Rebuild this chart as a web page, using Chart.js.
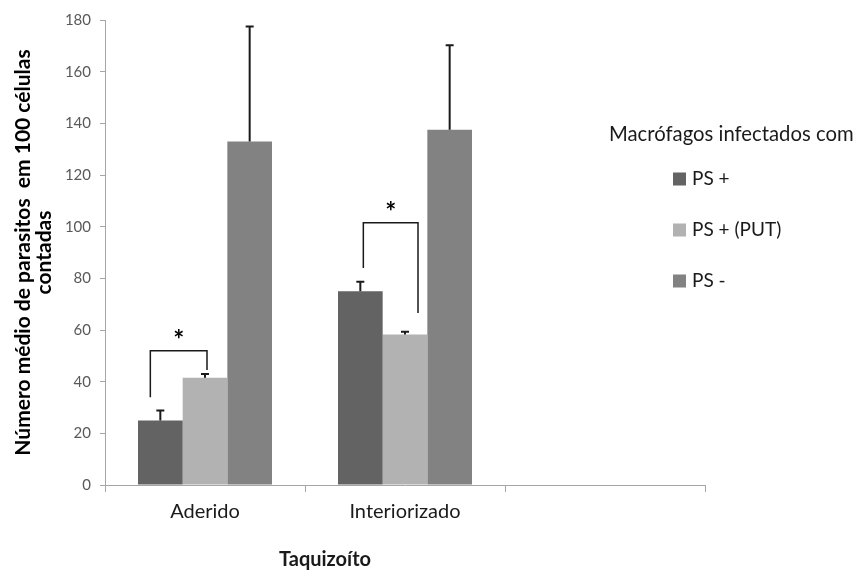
<!DOCTYPE html>
<html>
<head>
<meta charset="utf-8">
<script src="https://cdn.jsdelivr.net/npm/chart.js@4"></script>
<style>
  html, body { margin: 0; padding: 0; background: #fff; }
  canvas { display: block; }
</style>
</head>
<body>
<canvas id="grafico" width="855" height="572"></canvas>
<script>
// categorias e séries
const categorias = ['Aderido', 'Interiorizado', ''];
const seriesNomes = ['PS +', 'PS + (PUT)', 'PS -'];
const psPositivo = [25, 75, null];
const psPositivoPut = [41.5, 58.3, null];
const psNegativo = [133, 137.5, null];

// desvios (só para cima)
const errPsPositivo = [3.8, 3.7, null];
const errPsPositivoPut = [1.5, 1.0, null];
const errPsNegativo = [44.5, 32.7, null];

const yTicks = [0, 20, 40, 60, 80, 100, 120, 140, 160, 180];

// colchetes de significância: grupo, barras, alturas em unidades do eixo
const colchetes = [
    { grupo: 0, de: 0, ate: 1, esq: 34, topo: 52, dir: 44.5 },
    { grupo: 1, de: 0, ate: 1, esq: 84, topo: 101.5, dir: 66.6 }
];

const cores = ['#636363', '#b2b2b2', '#828282'];
const fonte = 'Lato, "Open Sans", sans-serif';

// ajuste fino horizontal das pontas dos colchetes (px)
const ajusteColchete = [[-10, 2], [3, 13]];

const pluginExtras = {
    id: 'extras',
    afterDatasetsDraw(chart) {
        const ctx = chart.ctx;
        const y = chart.scales.y;
        const erros = [errPsPositivo, errPsPositivoPut, errPsNegativo];

        // barras de erro
        ctx.save();
        ctx.strokeStyle = '#1a1a1a';
        ctx.lineWidth = 2;
        chart.data.datasets.forEach((ds, i) => {
            const meta = chart.getDatasetMeta(i);
            meta.data.forEach((bar, j) => {
                const v = ds.data[j];
                const e = erros[i][j];
                if (v == null || e == null) return;
                const yTop = y.getPixelForValue(v + e);
                ctx.beginPath();
                ctx.moveTo(bar.x, bar.y);
                ctx.lineTo(bar.x, yTop);
                ctx.moveTo(bar.x - 4, yTop);
                ctx.lineTo(bar.x + 4, yTop);
                ctx.stroke();
            });
        });

        // colchetes com asterisco
        ctx.lineWidth = 1.5;
        ctx.fillStyle = '#000';
        ctx.font = 'bold 26px ' + fonte;
        ctx.textAlign = 'center';
        ctx.textBaseline = 'middle';
        colchetes.forEach((c, k) => {
            const x1 = chart.getDatasetMeta(c.de).data[c.grupo].x + ajusteColchete[k][0];
            const x2 = chart.getDatasetMeta(c.ate).data[c.grupo].x + ajusteColchete[k][1];
            const yT = y.getPixelForValue(c.topo);
            ctx.beginPath();
            ctx.moveTo(x1, y.getPixelForValue(c.esq));
            ctx.lineTo(x1, yT);
            ctx.lineTo(x2, yT);
            ctx.lineTo(x2, y.getPixelForValue(c.dir));
            ctx.stroke();
            ctx.fillText('*', (x1 + x2) / 2, yT - 10);
        });
        ctx.restore();
    },
    afterDraw(chart) {
        const ctx = chart.ctx;
        ctx.save();

        // legenda
        ctx.fillStyle = '#1a1a1a';
        ctx.textBaseline = 'middle';
        ctx.textAlign = 'left';
        ctx.font = '20.3px ' + fonte;
        ctx.fillText('Macrófagos infectados com', 609, 134);
        ctx.font = '19px ' + fonte;
        seriesNomes.forEach((nome, i) => {
            const cy = 179 + i * 51;
            ctx.fillStyle = cores[i];
            ctx.fillRect(673, cy - 6.5, 13, 13);
            ctx.fillStyle = '#1a1a1a';
            ctx.fillText(nome, 692, cy);
        });

        // título do eixo x
        const x = chart.scales.x;
        ctx.font = 'bold 20px ' + fonte;
        ctx.textAlign = 'center';
        ctx.fillText('Taquizoíto', x.getPixelForValue(0.5) + 20, 560);
        ctx.restore();
    }
};

new Chart(document.getElementById('grafico'), {
    type: 'bar',
    data: {
        labels: categorias,
        datasets: [
            { label: seriesNomes[0], data: psPositivo, backgroundColor: cores[0] },
            { label: seriesNomes[1], data: psPositivoPut, backgroundColor: cores[1] },
            { label: seriesNomes[2], data: psNegativo, backgroundColor: cores[2] }
        ]
    },
    options: {
        responsive: false,
        animation: false,
        layout: { padding: { top: 20, right: 150, left: 0, bottom: 0 } },
        datasets: { bar: { barPercentage: 1, categoryPercentage: 0.67 } },
        plugins: {
            legend: { display: false },
            tooltip: { enabled: false }
        },
        scales: {
            x: {
                afterFit: (s) => { s.height = 87; },
                grid: {
                    offset: true,
                    drawOnChartArea: false,
                    color: '#a6a6a6',
                    tickLength: 7
                },
                border: { color: '#a6a6a6' },
                ticks: {
                    color: '#1a1a1a',
                    font: { family: fonte, size: 20 },
                    padding: 8
                }
            },
            y: {
                min: 0,
                max: 180,
                afterFit: (s) => { s.width = 105; },
                afterBuildTicks: (s) => { s.ticks = yTicks.map(v => ({ value: v })); },
                grid: {
                    drawOnChartArea: false,
                    color: '#a6a6a6',
                    tickLength: 5
                },
                border: { color: '#a6a6a6' },
                ticks: {
                    color: '#595959',
                    font: { family: fonte, size: 15 },
                    padding: 9
                },
                title: {
                    display: true,
                    text: ['Número médio de parasitos  em 100 células', 'contadas'],
                    color: '#000',
                    font: { family: fonte, size: 21, weight: 'bold', lineHeight: 1.0 },
                    padding: { top: 13, bottom: 0 }
                }
            }
        }
    },
    plugins: [pluginExtras]
});
</script>
</body>
</html>
